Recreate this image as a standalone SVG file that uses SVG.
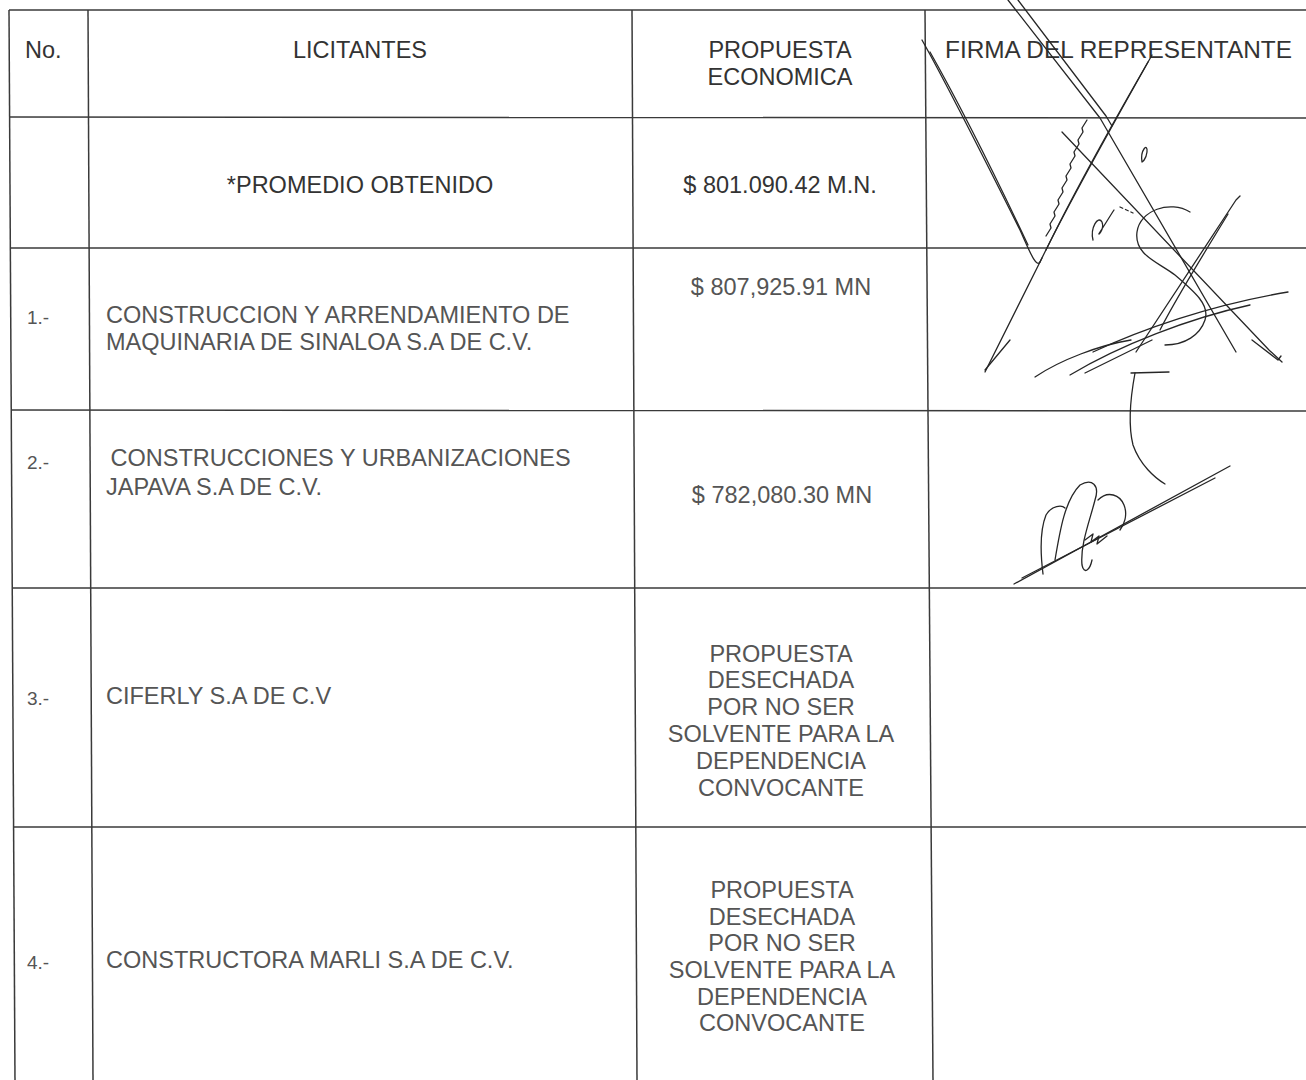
<svg xmlns="http://www.w3.org/2000/svg" width="1306" height="1080" viewBox="0 0 1306 1080">
<style>
.g{stroke:#3a3a3a;stroke-width:1.5;fill:none}
.t{font-family:"Liberation Sans",Arial,sans-serif;font-size:23.5px;fill:#555}
.h{fill:#333}
.n{font-family:"Liberation Sans",Arial,sans-serif;font-size:19px;fill:#555}
.m{text-anchor:middle}
.s{stroke:#262626;stroke-width:1.3;fill:none;stroke-linecap:round;stroke-linejoin:round}
</style>
<rect width="1306" height="1080" fill="#fff"/>
<g id="grid">
<line class="g" x1="9" y1="10" x2="1306" y2="10"/>
<line class="g" x1="9" y1="117" x2="1306" y2="118"/>
<line class="g" x1="10" y1="248" x2="1306" y2="248"/>
<line class="g" x1="11" y1="410" x2="1306" y2="411"/>
<line class="g" x1="12" y1="588" x2="1306" y2="588"/>
<line class="g" x1="13" y1="827" x2="1306" y2="827"/>
<line class="g" x1="9" y1="10" x2="15" y2="1080"/>
<line class="g" x1="88" y1="10" x2="93" y2="1080"/>
<line class="g" x1="632" y1="10" x2="637" y2="1080"/>
<line class="g" x1="925" y1="10" x2="933" y2="1080"/>
</g>
<g id="header">
<text class="t h" x="25" y="58">No.</text>
<text class="t h m" x="360" y="58">LICITANTES</text>
<text class="t h m" x="780" y="58">PROPUESTA</text>
<text class="t h m" x="780" y="85">ECONOMICA</text>
<text class="t h" x="945" y="58" textLength="347" lengthAdjust="spacingAndGlyphs">FIRMA DEL REPRESENTANTE</text>
</g>
<g id="row-promedio">
<text class="t h m" x="360" y="193">*PROMEDIO OBTENIDO</text>
<text class="t h m" x="780" y="193">$ 801.090.42 M.N.</text>
</g>
<g id="row-1">
<text class="n" x="27" y="324">1.-</text>
<text class="t" x="106" y="323">CONSTRUCCION Y ARRENDAMIENTO DE</text>
<text class="t" x="106" y="350">MAQUINARIA DE SINALOA S.A DE C.V.</text>
<text class="t m" x="781" y="295">$ 807,925.91 MN</text>
</g>
<g id="row-2">
<text class="n" x="27" y="469">2.-</text>
<text class="t" x="104" y="466" xml:space="preserve"> CONSTRUCCIONES Y URBANIZACIONES</text>
<text class="t" x="106" y="495">JAPAVA S.A DE C.V.</text>
<text class="t m" x="782" y="503">$ 782,080.30 MN</text>
</g>
<g id="row-3">
<text class="n" x="27" y="705">3.-</text>
<text class="t" x="106" y="704">CIFERLY S.A DE C.V</text>
<text class="t m" x="781" y="662">PROPUESTA</text>
<text class="t m" x="781" y="688">DESECHADA</text>
<text class="t m" x="781" y="715">POR NO SER</text>
<text class="t m" x="781" y="742">SOLVENTE PARA LA</text>
<text class="t m" x="781" y="769">DEPENDENCIA</text>
<text class="t m" x="781" y="796">CONVOCANTE</text>
</g>
<g id="row-4">
<text class="n" x="27" y="969">4.-</text>
<text class="t" x="106" y="968">CONSTRUCTORA MARLI S.A DE C.V.</text>
<text class="t m" x="782" y="898">PROPUESTA</text>
<text class="t m" x="782" y="925">DESECHADA</text>
<text class="t m" x="782" y="951">POR NO SER</text>
<text class="t m" x="782" y="978">SOLVENTE PARA LA</text>
<text class="t m" x="782" y="1005">DEPENDENCIA</text>
<text class="t m" x="782" y="1031">CONVOCANTE</text>
</g>
<g id="signature-1">
<path class="s" d="M1008 0 L1100 118 L1236 352"/>
<path class="s" d="M1018 0 L1106 116 L1112 126"/>
<path class="s" d="M1062 132 L1269 350 L1282 362"/>
<path class="s" d="M922 40 C950 90 990 170 1020 230 C1030 252 1036 268 1040 262"/>
<path class="s" d="M930 52 C960 105 995 175 1028 245"/>
<path class="s" d="M1040 262 C1070 200 1110 130 1152 55"/>
<path class="s" d="M1046 250 C1075 190 1110 128 1148 62"/>
<path class="s" d="M1042 258 L985 372"/>
<path class="s" d="M1046 236 l5 -8 l-1 -4 l5 -8 l-1 -4 l5 -8 l-1 -4 l5 -8 l-1 -4 l5 -8 l-1 -4 l5 -8 l-1 -4 l5 -8 l-1 -4 l5 -8 l-1 -4 l5 -8 l-1 -4 l5 -8"/>
<path class="s" d="M1142 162 C1140 150 1148 142 1147 152 C1146 160 1142 162 1142 162"/>
<path class="s" d="M1093 240 C1090 228 1098 215 1102 222 C1105 230 1096 238 1100 232 C1104 226 1110 216 1114 210"/>
<path class="s" d="M1120 207 L1133 213" stroke-dasharray="3 3"/>
<path class="s" d="M1190 212 C1170 200 1140 210 1137 232 C1134 255 1158 262 1175 275 C1195 292 1210 305 1205 320 C1200 335 1185 345 1165 345"/>
<path class="s" d="M1240 196 L1236 200 L1136 352"/>
<path class="s" d="M1228 214 C1200 260 1175 300 1160 330"/>
<path class="s" d="M1093 352 C1140 330 1210 305 1288 292"/>
<path class="s" d="M1070 375 C1120 345 1190 318 1250 305"/>
<path class="s" d="M985 370 L1010 340"/>
<path class="s" d="M1035 377 C1060 360 1100 345 1131 340"/>
<path class="s" d="M1085 373 L1152 340"/>
<path class="s" d="M1131 373 L1169 372"/>
<path class="s" d="M1135 373 C1130 400 1128 425 1133 445 C1140 465 1155 478 1165 484"/>
<path class="s" d="M1252 340 L1278 360 L1281 356"/>
</g>
<g id="signature-2">
<path class="s" d="M1014 584 L1230 466"/>
<path class="s" d="M1022 578 L1215 478"/>
<path class="s" d="M1043 574 C1040 550 1040 530 1046 515 C1052 505 1062 505 1065 508"/>
<path class="s" d="M1055 560 C1060 530 1065 500 1080 485 C1092 478 1100 485 1095 500 C1090 520 1080 545 1082 565 C1084 575 1090 570 1092 560"/>
<path class="s" d="M1098 500 C1108 490 1120 495 1124 505 C1128 515 1124 525 1120 530"/>
<path class="s" d="M1085 540 l8 -6 l-2 8 l8 -6 l-2 8 l10 -8"/>
</g>
</svg>
